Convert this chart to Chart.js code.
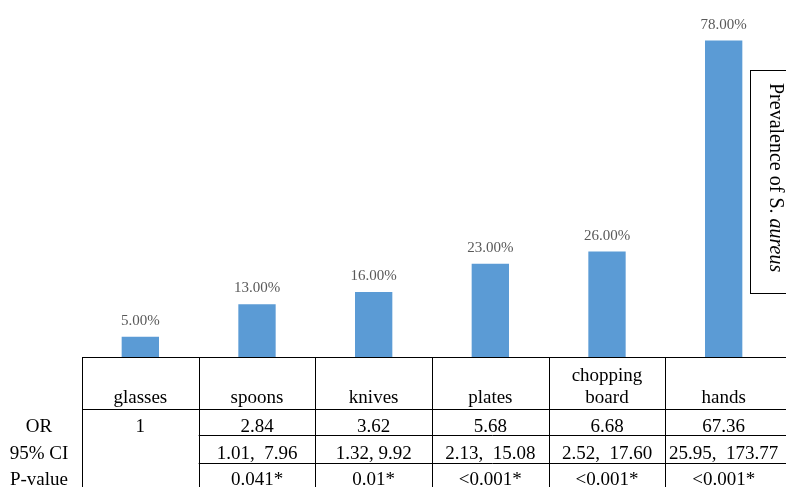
<!DOCTYPE html>
<html>
<head>
<meta charset="utf-8">
<script src="https://cdn.jsdelivr.net/npm/chart.js@4"></script>
<style>
  html, body { margin: 0; padding: 0; background: #fff; overflow: hidden; }
  #wrap { width: 786px; height: 487px; }
</style>
</head>
<body>
<div id="wrap"><canvas id="chart" width="786" height="487"></canvas></div>
<script>
// data
const sites = ["glasses", "spoons", "knives", "plates", ["chopping", "board"], "hands"];
const prevalence = [5, 13, 16, 23, 26, 78];
const oddsRatio = ["1", "2.84", "3.62", "5.68", "6.68", "67.36"];
const ci95 = ["", "1.01,  7.96", "1.32, 9.92", "2.13,  15.08", "2.52,  17.60", "25.95,  173.77"];
const pValue = ["", "0.041*", "0.01*", "<0.001*", "<0.001*", "<0.001*"];
const rowNames = ["OR", "95% CI", "P-value"];

const SERIF = '"Liberation Serif", "Times New Roman", serif';

// bar value labels
const valueLabels = {
  id: "valueLabels",
  afterDatasetsDraw(chart) {
    const ctx = chart.ctx;
    const meta = chart.getDatasetMeta(0);
    ctx.save();
    ctx.font = "15px " + SERIF;
    ctx.fillStyle = "#595959";
    ctx.textAlign = "center";
    ctx.textBaseline = "alphabetic";
    meta.data.forEach((bar, i) => {
      ctx.fillText(prevalence[i].toFixed(2) + "%", bar.x, bar.y - 12);
    });
    ctx.restore();
  },
};

// data table under the bars + legend box
const dataTable = {
  id: "dataTable",
  afterDraw(chart) {
    const ctx = chart.ctx;
    const x = chart.scales.x;
    const n = sites.length;
    const w = x.width / n;
    const top = chart.chartArea.bottom + 0.5;
    const headBottom = 409.5;
    const row1 = 435.5;
    const row2 = 463.5;
    const bottom = chart.height;
    const right = chart.width;

    ctx.save();
    ctx.strokeStyle = "#000";
    ctx.lineWidth = 1;
    ctx.beginPath();
    // horizontal rules
    ctx.moveTo(x.left, top); ctx.lineTo(right, top);
    ctx.moveTo(x.left, headBottom); ctx.lineTo(right, headBottom);
    ctx.moveTo(x.left + w, row1); ctx.lineTo(right, row1);
    ctx.moveTo(x.left + w, row2); ctx.lineTo(right, row2);
    // vertical rules
    for (let i = 0; i < n; i++) {
      const vx = Math.round(x.left + i * w) + 0.5;
      ctx.moveTo(vx, top); ctx.lineTo(vx, bottom);
    }
    ctx.stroke();

    ctx.fillStyle = "#000";
    ctx.font = "19px " + SERIF;
    ctx.textAlign = "center";
    ctx.textBaseline = "alphabetic";
    sites.forEach((s, i) => {
      const cx = x.getPixelForValue(i);
      const lines = Array.isArray(s) ? s : [s];
      lines.forEach((t, j) => {
        ctx.fillText(t, cx, 403 - (lines.length - 1 - j) * 22);
      });
      ctx.fillText(oddsRatio[i], cx, 432);
      ctx.fillText(ci95[i], cx, 459);
      ctx.fillText(pValue[i], cx, 485);
    });
    [432, 459, 485].forEach((y, r) => ctx.fillText(rowNames[r], 39, y));

    // legend box with rotated series name
    ctx.strokeRect(750.5, 70.5, 60, 223);
    ctx.translate(770, 83);
    ctx.rotate(Math.PI / 2);
    ctx.textAlign = "left";
    ctx.font = "20px " + SERIF;
    const a = "Prevalence of ";
    ctx.fillText(a, 0, 0);
    let off = ctx.measureText(a).width;
    ctx.fillText("S. ", off, 0);
    off += ctx.measureText("S. ").width;
    ctx.font = "italic 20px " + SERIF;
    ctx.fillText("aureus", off, 0);
    ctx.restore();
  },
};

new Chart(document.getElementById("chart"), {
  type: "bar",
  data: {
    labels: sites,
    datasets: [
      {
        label: "Prevalence of S. aureus",
        data: prevalence,
        backgroundColor: "#5B9BD5",
        barPercentage: 0.32,
        categoryPercentage: 1,
      },
    ],
  },
  options: {
    responsive: false,
    animation: false,
    layout: { padding: { left: 82, right: 4, top: 0, bottom: 130 } },
    plugins: { legend: { display: false }, tooltip: { enabled: false } },
    scales: {
      x: { display: false },
      y: { display: false, min: 0, max: 88 },
    },
  },
  plugins: [valueLabels, dataTable],
});
</script>
</body>
</html>
